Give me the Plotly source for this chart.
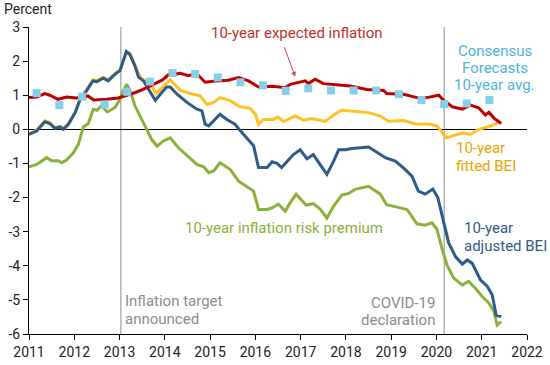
import plotly.graph_objects as go

# ---------------- data (decimal years, percent) ----------------
exp_x = [2011.00, 2011.17, 2011.35, 2011.46, 2011.64, 2011.83, 2012.05, 2012.30, 2012.43, 2012.72,
         2012.97, 2013.16, 2013.35, 2013.53, 2013.75, 2013.95, 2014.08, 2014.34, 2014.52, 2014.70,
         2014.89, 2015.11, 2015.40, 2015.63, 2015.85, 2016.07, 2016.37, 2016.66, 2016.77, 2017.10,
         2017.17, 2017.32, 2017.50, 2017.80, 2018.10, 2018.46, 2018.83, 2018.90, 2019.27, 2019.57,
         2019.79, 2020.05, 2020.16, 2020.35, 2020.57, 2020.75, 2020.93, 2021.08, 2021.16, 2021.27,
         2021.43]
exp_y = [0.93, 0.95, 1.05, 1.00, 0.88, 0.95, 0.92, 0.98, 0.86, 0.88,
         0.92, 1.00, 1.08, 1.18, 1.33, 1.45, 1.60, 1.64, 1.57, 1.64,
         1.38, 1.42, 1.44, 1.52, 1.42, 1.24, 1.26, 1.22, 1.32, 1.42,
         1.34, 1.47, 1.34, 1.30, 1.27, 1.17, 1.14, 1.05, 1.03, 0.93,
         0.93, 1.00, 0.85, 0.66, 0.59, 0.71, 0.63, 0.42, 0.50, 0.33,
         0.17]

fit_x = [2011.00, 2011.17, 2011.35, 2011.46, 2011.57, 2011.69, 2011.76, 2011.87, 2012.02, 2012.13,
         2012.27, 2012.41, 2012.50, 2012.64, 2012.75, 2012.90, 2013.01, 2013.15, 2013.23, 2013.34,
         2013.46, 2013.53, 2013.68, 2013.80, 2013.95, 2014.12, 2014.34, 2014.56, 2014.78, 2014.93,
         2015.08, 2015.22, 2015.44, 2015.66, 2015.88, 2016.00, 2016.07, 2016.18, 2016.40, 2016.50,
         2016.62, 2016.88, 2017.06, 2017.25, 2017.54, 2017.76, 2017.91, 2018.13, 2018.50, 2018.76,
         2018.94, 2019.27, 2019.57, 2019.86, 2020.01, 2020.16, 2020.23, 2020.45, 2020.60, 2020.75,
         2020.93, 2021.12, 2021.30, 2021.41]
fit_y = [-0.12, -0.02, 0.25, 0.20, 0.05, 0.09, 0.02, 0.17, 0.50, 0.90,
         1.15, 1.45, 1.43, 1.53, 1.45, 1.64, 1.74, 2.25, 2.18, 1.85,
         1.52, 1.45, 1.35, 1.05, 1.25, 1.45, 1.15, 1.05, 0.98, 0.73,
         0.79, 0.93, 0.84, 0.66, 0.62, 0.44, 0.15, 0.29, 0.29, 0.36,
         0.23, 0.39, 0.27, 0.32, 0.23, 0.45, 0.56, 0.54, 0.49, 0.39,
         0.24, 0.26, 0.15, 0.15, 0.10, -0.15, -0.25, -0.15, -0.10, -0.15,
         0.00, 0.07, 0.15, 0.26]

adj_x = [2011.00, 2011.17, 2011.35, 2011.46, 2011.57, 2011.69, 2011.76, 2011.87, 2012.02, 2012.13,
         2012.27, 2012.41, 2012.50, 2012.64, 2012.75, 2012.90, 2013.01, 2013.15, 2013.23, 2013.34,
         2013.42, 2013.53, 2013.66, 2013.79, 2013.90, 2014.04, 2014.12, 2014.27, 2014.49, 2014.70,
         2014.82, 2014.89, 2014.97, 2015.22, 2015.37, 2015.55, 2015.66, 2015.81, 2015.96, 2016.07,
         2016.26, 2016.37, 2016.48, 2016.58, 2016.70, 2016.84, 2016.99, 2017.14, 2017.28, 2017.45,
         2017.58, 2017.73, 2017.84, 2017.99, 2018.13, 2018.32, 2018.50, 2018.65, 2018.87, 2019.09,
         2019.27, 2019.46, 2019.60, 2019.75, 2019.92, 2020.03, 2020.10, 2020.16, 2020.27, 2020.42,
         2020.57, 2020.68, 2020.79, 2020.97, 2021.12, 2021.23, 2021.32, 2021.43]
adj_y = [-0.15, -0.05, 0.22, 0.17, 0.03, 0.07, 0.00, 0.15, 0.49, 0.88,
         1.13, 1.42, 1.40, 1.50, 1.42, 1.62, 1.72, 2.28, 2.20, 1.86,
         1.53, 1.42, 1.13, 0.85, 1.03, 1.24, 1.24, 1.03, 0.79, 0.60,
         0.54, 0.15, 0.10, 0.44, 0.29, 0.15, -0.03, -0.25, -0.48, -1.12,
         -1.12, -0.95, -1.00, -1.12, -0.95, -0.74, -0.60, -0.86, -0.74, -1.05,
         -1.32, -0.93, -0.60, -0.60, -0.56, -0.54, -0.52, -0.64, -0.83, -0.93,
         -1.13, -1.37, -1.81, -1.90, -1.75, -2.00, -2.40, -2.75, -3.33, -3.73,
         -3.95, -3.83, -3.93, -4.41, -4.60, -4.85, -5.45, -5.49]

risk_x = [2011.00, 2011.17, 2011.39, 2011.50, 2011.65, 2011.72, 2011.83, 2011.98, 2012.09, 2012.20,
          2012.31, 2012.42, 2012.50, 2012.60, 2012.73, 2012.90, 2013.01, 2013.08, 2013.16, 2013.25,
          2013.34, 2013.46, 2013.60, 2013.71, 2013.83, 2013.97, 2014.12, 2014.30, 2014.49, 2014.71,
          2014.86, 2014.97, 2015.08, 2015.22, 2015.44, 2015.63, 2015.80, 2015.96, 2016.07, 2016.26,
          2016.37, 2016.51, 2016.66, 2016.77, 2016.90, 2017.12, 2017.28, 2017.43, 2017.58, 2017.73,
          2017.91, 2018.06, 2018.20, 2018.50, 2018.76, 2018.90, 2019.13, 2019.35, 2019.57, 2019.75,
          2019.90, 2020.01, 2020.12, 2020.23, 2020.38, 2020.57, 2020.71, 2020.86, 2021.01, 2021.16,
          2021.27, 2021.34, 2021.43]
risk_y = [-1.10, -1.03, -0.83, -0.92, -0.92, -0.98, -0.90, -0.69, -0.44, 0.07,
          0.17, 0.59, 0.56, 0.69, 0.51, 0.64, 0.88, 1.13, 1.32, 1.08,
          0.69, 0.39, 0.00, -0.30, -0.49, -0.34, -0.25, -0.54, -0.78, -1.03,
          -1.10, -1.27, -1.22, -0.98, -1.17, -1.52, -1.67, -1.81, -2.35, -2.35,
          -2.30, -2.19, -2.40, -2.15, -1.90, -2.22, -2.18, -2.34, -2.60, -2.25,
          -1.93, -1.88, -1.76, -1.67, -1.90, -2.21, -2.28, -2.35, -2.77, -2.81,
          -2.74, -2.93, -3.48, -3.97, -4.36, -4.56, -4.46, -4.66, -4.90, -5.10,
          -5.34, -5.74, -5.64]

cons_x = [2011.17, 2011.67, 2012.17, 2012.67, 2013.17, 2013.67, 2014.17, 2014.67, 2015.17, 2015.67,
          2016.17, 2016.67, 2017.17, 2017.67, 2018.17, 2018.67, 2019.17, 2019.67, 2020.17, 2020.67,
          2021.17]
cons_y = [1.06, 0.71, 0.96, 0.73, 1.10, 1.40, 1.65, 1.62, 1.52, 1.38,
          1.29, 1.13, 1.20, 1.14, 1.14, 1.14, 1.03, 0.86, 0.74, 0.76,
          0.86]

x_ticks = list(range(2011, 2023))
y_ticks = [3, 2, 1, 0, -1, -2, -3, -4, -5, -6]
events_x = [2013.03, 2020.17]

# ---------------- styles ----------------
RED = "#C00000"
GOLD = "#FFC125"
BLUE = "#2E5B88"
GREEN = "#8CB03C"
SKY = "#87CEEB"
GRAY = "#8C8C8C"
FONT = "Roboto"

fig = go.Figure()
fig.add_trace(go.Scatter(x=risk_x, y=risk_y, mode="lines", line=dict(color=GREEN, width=3)))
fig.add_trace(go.Scatter(x=fit_x, y=fit_y, mode="lines", line=dict(color=GOLD, width=3)))
fig.add_trace(go.Scatter(x=adj_x, y=adj_y, mode="lines", line=dict(color=BLUE, width=3)))
fig.add_trace(go.Scatter(x=exp_x, y=exp_y, mode="lines", line=dict(color=RED, width=3)))
fig.add_trace(go.Scatter(x=cons_x, y=cons_y, mode="markers",
                         marker=dict(symbol="square", size=8, color=SKY, line=dict(width=0))))

for ex in events_x:
    fig.add_shape(type="line", x0=ex, x1=ex, y0=-6, y1=3, xref="x", yref="y",
                  line=dict(color=GRAY, width=1), layer="below")

# one annotation per text line (x, y, text, colour, anchor)
ann = [
    (2014.98, 2.81, "10-year expected inflation", "#C0302B", "left"),
    (2021.29, 2.31, "Consensus", "#4DB3DE", "center"),
    (2021.29, 1.81, "Forecasts", "#4DB3DE", "center"),
    (2021.29, 1.29, "10-year avg.", "#4DB3DE", "center"),
    (2020.39, -0.56, "10-year", "#E8A400", "left"),
    (2020.39, -1.08, "fitted BEI", "#E8A400", "left"),
    (2020.56, -2.90, "10-year", "#2E5B88", "left"),
    (2020.56, -3.42, "adjusted BEI", "#2E5B88", "left"),
    (2014.40, -2.90, "10-year inflation risk premium", "#8CB03C", "left"),
    (2013.08, -5.03, "Inflation target", GRAY, "left"),
    (2013.08, -5.56, "announced", GRAY, "left"),
    (2020.01, -5.10, "COVID-19", GRAY, "right"),
    (2020.01, -5.59, "declaration", GRAY, "right"),
]
for ax_, ay_, txt, col, anc in ann:
    fig.add_annotation(x=ax_, y=ay_, xref="x", yref="y", text=txt, showarrow=False,
                       xanchor=anc, yanchor="middle",
                       font=dict(family=FONT, size=15, color=col))

# arrow to expected inflation line
fig.add_annotation(x=2016.88, y=1.54, ax=2016.63, ay=2.45, xref="x", yref="y", axref="x", ayref="y",
                   text="", showarrow=True, arrowhead=2, arrowsize=1, arrowwidth=1, arrowcolor="#C0504D")

fig.add_annotation(x=-0.054, y=1.0586, xref="paper", yref="paper", text="Percent", showarrow=False,
                   xanchor="left", yanchor="middle", font=dict(family=FONT, size=14, color="#222"))

fig.update_layout(
    width=550, height=365,
    margin=dict(l=29, r=23, t=27, b=31),
    paper_bgcolor="white", plot_bgcolor="white",
    showlegend=False,
    hovermode=False,
    font=dict(family=FONT, size=14, color="#222"),
    xaxis=dict(range=[2011, 2022], tickmode="array", tickvals=x_ticks, ticktext=[str(t) for t in x_ticks],
               showgrid=False, zeroline=False, showline=True, linecolor="black", linewidth=1,
               automargin=False,
               ticks="outside", ticklen=5, tickcolor="black", tickfont=dict(family=FONT, size=14, color="#222")),
    yaxis=dict(range=[-6, 3], tickmode="array", tickvals=y_ticks, ticktext=[str(t) for t in y_ticks],
               showgrid=False, zeroline=True, zerolinecolor="black", zerolinewidth=1,
               showline=True, linecolor="black", linewidth=1, automargin=False,
               ticks="outside", ticklen=5, tickcolor="black", tickfont=dict(family=FONT, size=14, color="#222")),
)

# remove the browser's default 8px body margin so the 550x365 figure fills the window
fig.write_html("out.html",
               config={"displayModeBar": False, "staticPlot": True},
               post_script="document.body.style.margin='0';document.body.style.overflow='hidden';")
